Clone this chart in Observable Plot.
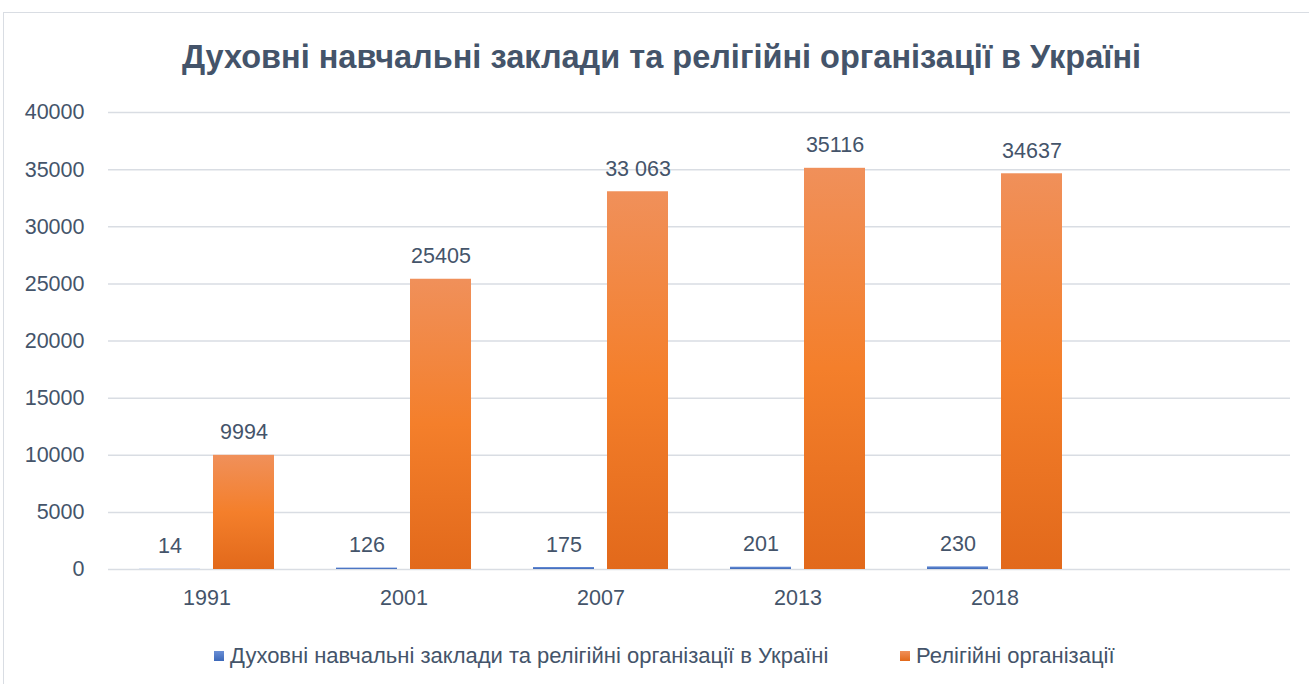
<!DOCTYPE html>
<html>
<head>
<meta charset="utf-8">
<script src="https://cdn.jsdelivr.net/npm/d3@7"></script>
<script src="https://cdn.jsdelivr.net/npm/@observablehq/plot@0.6"></script>
<style>
  html, body { margin: 0; padding: 0; background: #fff; }
  body { width: 1309px; height: 684px; overflow: hidden; position: relative; font-family: "Liberation Sans", Arial, sans-serif; color: #44546a; }
  #frame { position: absolute; left: 3px; top: 12px; width: 1310px; height: 690px; border: 1.5px solid #d9dde3; box-sizing: border-box; pointer-events: none; }
  #title { height: 91px; box-sizing: border-box; padding-top: 39px; padding-left: 14px; text-align: center; font-size: 32.5px; font-weight: bold; line-height: 36px; color: #44546a; }
  #chart svg { display: block; }
  #legend { position: relative; height: 63px; font-size: 22px; color: #44546a; }
  .item { position: absolute; top: 22px; display: flex; align-items: center; white-space: nowrap; }
  .sw { width: 10px; height: 10px; margin-right: 6px; }
</style>
</head>
<body>
<div id="frame"></div>
<div id="title">Духовні навчальні заклади та релігійні організації в Україні</div>
<div id="chart"></div>
<div id="legend"></div>
<script>
const years = ["1991", "2001", "2007", "2013", "2018"];
const seminaries = [14, 126, 175, 201, 230];
const organizations = [9994, 25405, 33063, 35116, 34637];
const organizationLabels = ["9994", "25405", "33 063", "35116", "34637"];
const seriesNames = ["Духовні навчальні заклади та релігійні організації в Україні", "Релігійні організації"];
const yTicks = [0, 5000, 10000, 15000, 20000, 25000, 30000, 35000, 40000];
const emptySlot = " ";

const blueRows = years.map((year, i) => ({year, series: seriesNames[0], value: seminaries[i], label: String(seminaries[i])}));
const orangeRows = years.map((year, i) => ({year, series: seriesNames[1], value: organizations[i], label: organizationLabels[i]}));
const placeholder = [{year: emptySlot, series: seriesNames[0], value: null, label: ""}];
const allRows = [...blueRows, ...orangeRows, ...placeholder];

const textColor = "#44546a";
const fs = 21.5;

const plot = Plot.plot({
  width: 1309,
  height: 530,
  marginLeft: 107,
  marginRight: 19,
  marginTop: 21,
  marginBottom: 52,
  style: {fontFamily: "'Liberation Sans', Arial, sans-serif", color: textColor, background: "transparent"},
  fx: {domain: [...years, emptySlot], padding: 0, label: null},
  x: {domain: seriesNames, paddingInner: 0.173, paddingOuter: 0.4, axis: null},
  y: {domain: [0, 40000], label: null},
  marks: [
    Plot.gridY(yTicks, {stroke: "#d9dde3", strokeOpacity: 1, strokeWidth: 1.5}),
    Plot.axisY(yTicks, {tickSize: 0, tickPadding: 24, fontSize: fs, fill: textColor, label: null, tickFormat: d => String(d)}),
    Plot.axisFx({anchor: "bottom", tickSize: 0, tickPadding: 20, fontSize: fs, fill: textColor, label: null}),
    Plot.barY(blueRows, {fx: "year", x: "series", y: "value", fill: "url(#gBlue)"}),
    Plot.barY(orangeRows, {fx: "year", x: "series", y: "value", fill: "url(#gOrange)"}),
    Plot.text(allRows, {fx: "year", x: "series", y: d => d.value ?? 0, text: "label", dy: -16, lineAnchor: "bottom", fontSize: fs, fill: textColor})
  ]
});

const svg = d3.select(plot);
const defs = svg.insert("defs", ":first-child");
const gO = defs.append("linearGradient").attr("id", "gOrange").attr("x1", 0).attr("y1", 0).attr("x2", 0).attr("y2", 1);
gO.append("stop").attr("offset", "0%").attr("stop-color", "#f0905a");
gO.append("stop").attr("offset", "50%").attr("stop-color", "#f47f2b");
gO.append("stop").attr("offset", "100%").attr("stop-color", "#e2691b");
const gB = defs.append("linearGradient").attr("id", "gBlue").attr("x1", 0).attr("y1", 0).attr("x2", 0).attr("y2", 1);
gB.append("stop").attr("offset", "0%").attr("stop-color", "#6a8fd6");
gB.append("stop").attr("offset", "100%").attr("stop-color", "#3c68b9");

document.getElementById("chart").appendChild(plot);

const legend = d3.select("#legend");
const swatches = [["linear-gradient(#6a8fd6,#3c68b9)", 214], ["linear-gradient(#f0905a,#e2691b)", 900]];
seriesNames.forEach((name, i) => {
  const item = legend.append("div").attr("class", "item").style("left", swatches[i][1] + "px");
  item.append("div").attr("class", "sw").style("background", swatches[i][0]);
  item.append("span").text(name);
});
</script>
</body>
</html>
